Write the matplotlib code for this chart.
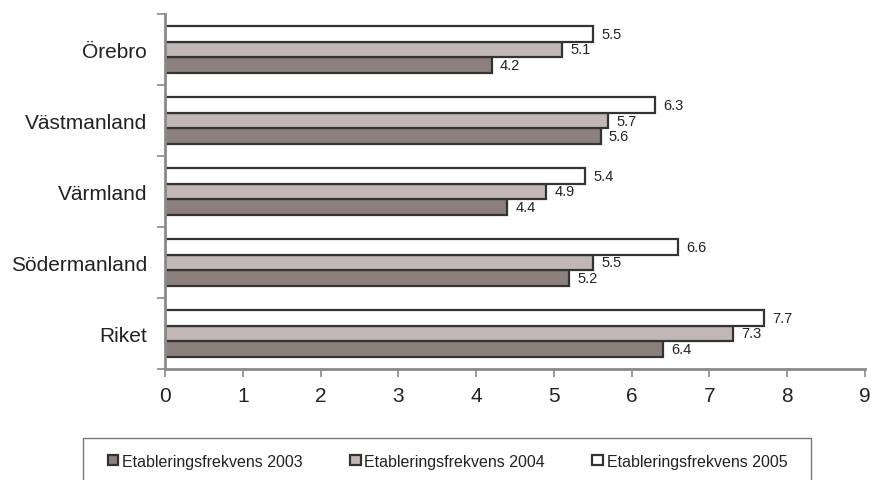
import matplotlib
matplotlib.use("Agg")
import matplotlib.pyplot as plt
from matplotlib.patches import Rectangle
import numpy as np

# data (top to bottom in the chart)
lan = ["Örebro", "Västmanland", "Värmland", "Södermanland", "Riket"]
frek_2003 = [4.2, 5.6, 4.4, 5.2, 6.4]
frek_2004 = [5.1, 5.7, 4.9, 5.5, 7.3]
frek_2005 = [5.5, 6.3, 5.4, 6.6, 7.7]
serier = ["Etableringsfrekvens 2003", "Etableringsfrekvens 2004", "Etableringsfrekvens 2005"]

plt.rcParams["font.family"] = ["Liberation Sans", "DejaVu Sans"]

W, H = 871, 481
fig = plt.figure(figsize=(W / 100, H / 100), dpi=100)
ax = fig.add_axes([165 / W, 111 / H, 700 / W, 355 / H])

farger = ["#8C807C", "#C1B7B5", "#FFFFFF"]
kant = "#333333"
axgra = "#8A8A8A"

y = np.arange(len(lan))[::-1]   # Örebro överst
h = 0.224
offs = [-h, 0, h]

for vals, off, col, namn in zip([frek_2003, frek_2004, frek_2005], offs, farger, serier):
    bars = ax.barh(y + off, vals, height=h, color=col, edgecolor=kant,
                   linewidth=1.6, label=namn)
    for b, v in zip(bars, vals):
        ax.annotate(f"{v:.1f}", (b.get_width(), b.get_y() + b.get_height() / 2),
                    xytext=(6, 0), textcoords="offset points",
                    va="center", ha="left", fontsize=10.5, color="#222222")

ax.set_xlim(0, 9)
ax.set_ylim(-0.5, len(lan) - 0.5)
ax.set_xticks(range(10))

ax.set_yticks(y)
ax.set_yticklabels(lan)
ax.set_yticks(np.arange(-0.5, len(lan), 1.0), minor=True)
ax.tick_params(axis="y", which="major", length=0, pad=13, labelsize=15, labelcolor="#222222")
ax.tick_params(axis="y", which="minor", length=6, width=1.2, color=axgra, direction="out")
ax.tick_params(axis="x", length=6, width=1.2, color=axgra, direction="out",
               pad=6, labelsize=15, labelcolor="#222222")

for s in ["top", "right"]:
    ax.spines[s].set_visible(False)
for s in ["left", "bottom"]:
    ax.spines[s].set_color(axgra)
    ax.spines[s].set_linewidth(2)

# legend box (open at the bottom edge of the image)
fig.patches.append(Rectangle((83 / W, -4 / H), 728 / W, 46 / H, transform=fig.transFigure,
                             facecolor="none", edgecolor="#777777", linewidth=1))

h_, l_ = ax.get_legend_handles_labels()
leg = fig.legend(h_, l_, loc="center left", ncol=3,
                 bbox_to_anchor=(108 / W, 1 - 462 / H),
                 bbox_transform=fig.transFigure, fontsize=11.5,
                 frameon=False, handlelength=0.65, handleheight=0.65,
                 handletextpad=0.25, columnspacing=2.95, borderpad=0, borderaxespad=0)
for t in leg.get_texts():
    t.set_color("#222222")

fig.savefig("out.png", dpi=100)
